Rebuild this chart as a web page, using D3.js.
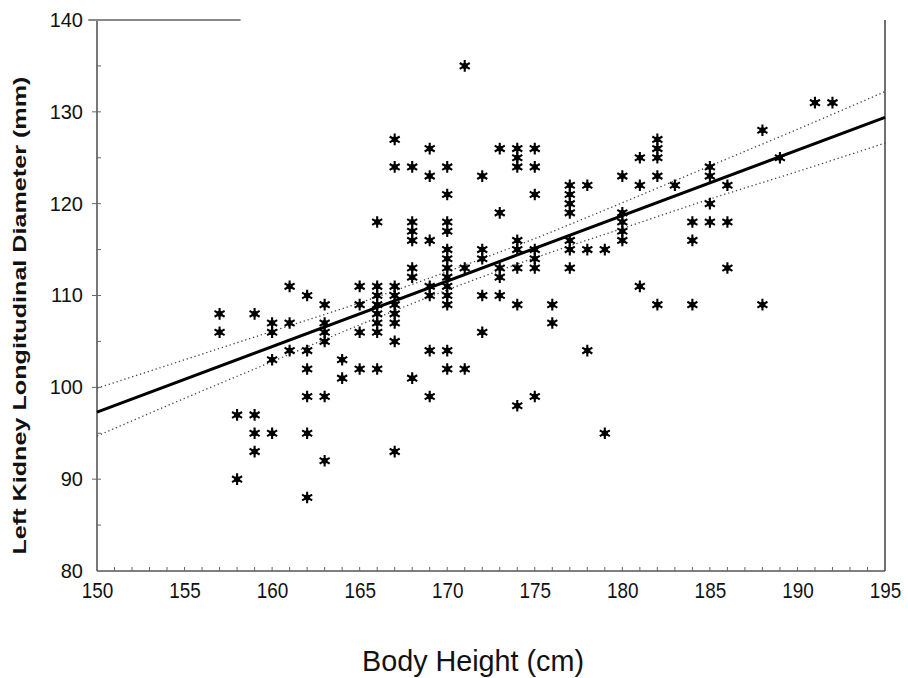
<!DOCTYPE html>
<html><head><meta charset="utf-8">
<script src="https://cdn.jsdelivr.net/npm/d3@7"></script>
<style>html,body{margin:0;padding:0;background:#fff;}svg{display:block;}</style>
</head><body>
<svg id="chart" width="908" height="678"></svg>
<script>
// ---- data ----
const xTicks = [150,155,160,165,170,175,180,185,190,195];
const yTicks = [80,90,100,110,120,130,140];
const heights = [157,157,158,158,159,159,159,159,160,160,160,160,161,161,161,
 162,162,162,162,162,162,163,163,163,163,163,163,164,164,165,165,165,165,
 166,166,166,166,166,166,166,166,167,167,167,167,167,167,167,167,167,
 168,168,168,168,168,168,168,169,169,169,169,169,169,169,
 170,170,170,170,170,170,170,170,170,170,170,170,170,171,171,171,
 172,172,172,172,172,173,173,173,173,173,174,174,174,174,174,174,174,174,
 175,175,175,175,175,175,175,176,176,177,177,177,177,177,177,177,178,178,178,179,179,
 180,180,180,180,180,181,181,181,182,182,182,182,182,183,184,184,184,185,185,185,185,
 186,186,186,188,188,189,191,192];
const kidney = [108,106,97,90,108,97,95,93,107,106,103,95,111,107,104,
 110,104,102,99,95,88,109,107,106,105,99,92,103,101,111,109,106,102,
 118,111,110,109,108,107,106,102,127,124,111,110,109,108,107,105,93,
 124,118,117,116,113,112,101,126,123,116,111,110,104,99,
 124,121,118,117,115,114,113,112,111,110,109,104,102,135,113,102,
 123,115,114,110,106,126,119,113,112,110,126,125,124,116,115,113,109,98,
 126,124,121,115,114,113,99,109,107,122,121,120,119,116,115,113,122,115,104,115,95,
 123,119,118,117,116,125,122,111,127,126,125,123,109,122,118,116,109,124,123,120,118,
 122,118,113,128,109,125,131,131];
const fitX = [150,195];
const fitY = [97.3,129.4];
const bandX = [150,155,160,165,170,175,180,185,190,195];
const bandUpper = [99.9,103.0,106.1,109.2,112.6,116.2,120.1,124.1,128.1,132.2];
const bandLower = [94.7,98.8,102.8,106.8,110.6,114.1,117.3,120.5,123.5,126.6];
const xTitle = "Body Height (cm)";
const yTitle = "Left Kidney Longitudinal Diameter (mm)";

// ---- layout ----
const W = 908, H = 678;
const m = {left: 97, right: 23, top: 20, bottom: 107};
const svg = d3.select("#chart");
const x = d3.scaleLinear().domain([150,195]).range([m.left, W - m.right]);
const y = d3.scaleLinear().domain([80,140]).range([H - m.bottom, m.top]);
const font = "'Liberation Sans', Arial, Helvetica, sans-serif";
const frameCol = "#555";

// frame
const g = svg.append("g");
g.append("line").attr("x1", x(150)).attr("x2", x(150)).attr("y1", y(140)).attr("y2", y(80))
  .attr("stroke", frameCol).attr("stroke-width", 1.6);
g.append("line").attr("x1", x(195)).attr("x2", x(195)).attr("y1", y(140)).attr("y2", y(80))
  .attr("stroke", "#333").attr("stroke-width", 1.4);
g.append("line").attr("x1", x(150)).attr("x2", x(195)).attr("y1", y(80)).attr("y2", y(80))
  .attr("stroke", frameCol).attr("stroke-width", 1.6);
g.append("line").attr("x1", x(149.5)).attr("x2", x(158.2)).attr("y1", y(140)).attr("y2", y(140))
  .attr("stroke", "#888").attr("stroke-width", 1.8);

// axes with d3
const xAxis = d3.axisBottom(x).tickValues(xTicks).tickSize(0).tickPadding(11).tickFormat(d3.format("d"));
const xa = svg.append("g").attr("transform", `translate(0,${y(80)})`).call(xAxis);
xa.select(".domain").remove();
xa.selectAll("text").attr("font-family", font).attr("font-size", 22).attr("fill", "#111")
  .attr("transform", "scale(0.86,1)");

const yAxis = d3.axisLeft(y).tickValues(yTicks).tickSize(0).tickPadding(14).tickFormat(d3.format("d"));
const ya = svg.append("g").attr("transform", `translate(${x(150)},0)`).call(yAxis);
ya.select(".domain").remove();
ya.selectAll("text").attr("font-family", font).attr("font-size", 20).attr("fill", "#111");

// minor ticks (inward)
const xMinor = d3.range(151, 195, 1);
svg.append("g").selectAll("line").data(xMinor).join("line")
  .attr("x1", d => x(d)).attr("x2", d => x(d)).attr("y1", y(80)).attr("y2", y(80) - 4)
  .attr("stroke", "#666").attr("stroke-width", 1);
const yMinor = d3.range(85, 140, 5);
svg.append("g").selectAll("line").data(yMinor).join("line")
  .attr("x1", x(150)).attr("x2", x(150) + 4).attr("y1", d => y(d)).attr("y2", d => y(d))
  .attr("stroke", "#666").attr("stroke-width", 1);
svg.append("g").selectAll("line").data(yTicks.filter(d => d > 80 && d < 140)).join("line")
  .attr("x1", x(150) - 5).attr("x2", x(150)).attr("y1", d => y(d)).attr("y2", d => y(d))
  .attr("stroke", "#666").attr("stroke-width", 1);

// confidence bands
const bandLine = d3.line().x(d => x(d[0])).y(d => y(d[1])).curve(d3.curveMonotoneX);
[bandUpper, bandLower].forEach(b => {
  svg.append("path").datum(bandX.map((v, i) => [v, b[i]]))
    .attr("d", bandLine).attr("fill", "none")
    .attr("stroke", "#444").attr("stroke-width", 1.3).attr("stroke-dasharray", "1.3,2.8");
});

// regression line
svg.append("path").datum(fitX.map((v, i) => [v, fitY[i]]))
  .attr("d", d3.line().x(d => x(d[0])).y(d => y(d[1])))
  .attr("fill", "none").attr("stroke", "#000").attr("stroke-width", 3);

// points
const pts = heights.map((h, i) => [h, kidney[i]]);
const star = d3.symbol().type(d3.symbolAsterisk).size(95);
const pg = svg.append("g");
const pnt = pg.selectAll("g").data(pts).join("g")
  .attr("transform", d => `translate(${x(d[0])},${y(d[1])})`);
pnt.append("path").attr("d", star).attr("fill", "none").attr("stroke", "#000").attr("stroke-width", 2.1);
pnt.append("circle").attr("r", 3).attr("fill", "#000");

// titles
svg.append("text").attr("x", (x(150) + x(195)) / 2 - 18).attr("y", 671)
  .attr("text-anchor", "middle").attr("font-family", font).attr("font-size", 30)
  .attr("fill", "#111").attr("textLength", 222).attr("lengthAdjust", "spacingAndGlyphs").text(xTitle);
svg.append("text").attr("transform", `translate(26,${(y(80)+y(140))/2 + 20}) rotate(-90)`)
  .attr("text-anchor", "middle").attr("font-family", font).attr("font-size", 19)
  .attr("font-weight", "bold").attr("fill", "#111")
  .attr("textLength", 478).attr("lengthAdjust", "spacingAndGlyphs").text(yTitle);
</script>
</body></html>
